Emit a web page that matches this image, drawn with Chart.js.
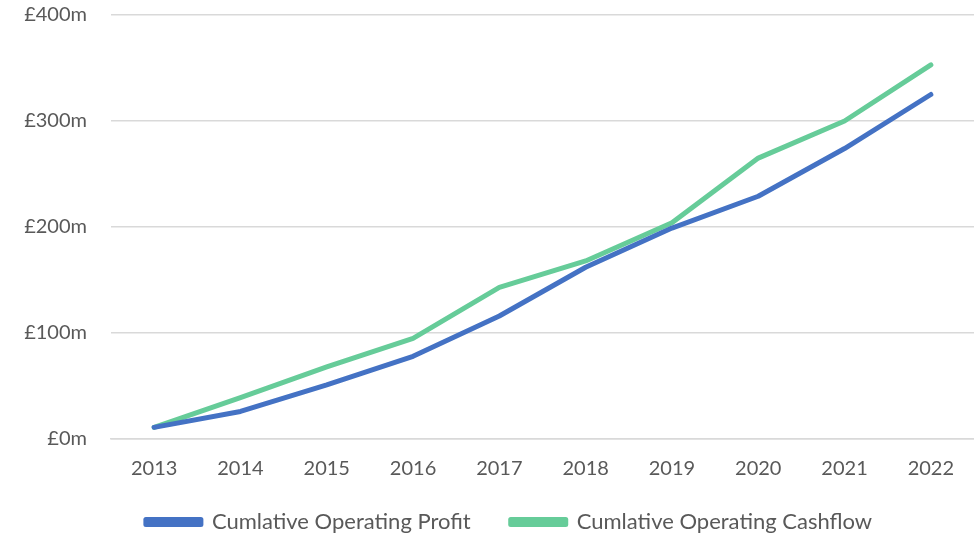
<!DOCTYPE html>
<html>
<head>
<meta charset="utf-8">
<script src="https://cdn.jsdelivr.net/npm/chart.js@4"></script>
<style>
  html, body { margin: 0; padding: 0; background: #fff; }
  #wrap { width: 974px; height: 537px; position: relative; }
</style>
</head>
<body>
<div id="wrap"><canvas id="chart"></canvas></div>
<script>
const years = ['2013', '2014', '2015', '2016', '2017', '2018', '2019', '2020', '2021', '2022'];
const profit = [11, 26, 51, 78, 116, 162, 199, 229, 274, 325];
const cashflow = [11, 39, 68, 95, 143, 168, 204, 265, 300, 353];
const yTicks = [0, 100, 200, 300, 400];

const textColor = '#595959';
const fontFamily = 'Lato, "Open Sans", sans-serif';

// legend: keep it short (wide item spacing adds a lot of height) and nudge it into place
const legendPlacePlugin = {
  id: 'legendPlace',
  beforeUpdate(chart) {
    const legend = chart.legend;
    if (legend && !legend._fitWrapped) {
      const origFit = legend.fit.bind(legend);
      legend.fit = function () {
        origFit();
        this.height = 54;
      };
      legend._fitWrapped = true;
    }
  },
  afterLayout(chart) {
    const legend = chart.legend;
    if (!legend) return;
    legend.top -= 12;
    legend.left += 12;
    legend.right += 12;
  }
};

const ctx = document.getElementById('chart').getContext('2d');

new Chart(ctx, {
  type: 'line',
  data: {
    labels: years,
    datasets: [
      {
        label: 'Cumlative Operating Profit',
        data: profit,
        borderColor: '#4472c4',
        backgroundColor: '#4472c4',
        borderWidth: 5,
        pointRadius: 0,
        tension: 0,
        borderCapStyle: 'round',
        borderJoinStyle: 'round'
      },
      {
        label: 'Cumlative Operating Cashflow',
        data: cashflow,
        borderColor: '#66cc99',
        backgroundColor: '#66cc99',
        borderWidth: 5,
        pointRadius: 0,
        tension: 0,
        borderCapStyle: 'round',
        borderJoinStyle: 'round'
      }
    ]
  },
  options: {
    responsive: true,
    maintainAspectRatio: false,
    animation: false,
    layout: {
      padding: { top: 15, right: 0, bottom: 0, left: 20 }
    },
    plugins: {
      tooltip: { enabled: false },
      legend: {
        position: 'bottom',
        labels: {
          color: textColor,
          font: { family: fontFamily, size: 22 },
          boxWidth: 55,
          boxHeight: 5,
          padding: 40
        }
      }
    },
    scales: {
      x: {
        offset: true,
        grid: { display: false, drawTicks: false },
        border: { display: true, color: '#d9d9d9', width: 1.5 },
        ticks: {
          color: textColor,
          font: { family: fontFamily, size: 20 },
          padding: 18,
          maxRotation: 0
        },
        afterFit: (scale) => { scale.height = 44; }
      },
      y: {
        min: 0,
        max: 400,
        afterBuildTicks: (scale) => { scale.ticks = yTicks.map(v => ({ value: v })); },
        grid: { color: '#d9d9d9', lineWidth: 1.5, drawTicks: false },
        border: { display: false },
        ticks: {
          color: textColor,
          font: { family: fontFamily, size: 20 },
          padding: 24,
          callback: (v) => '£' + v + 'm'
        },
        afterFit: (scale) => {
          scale.width = 91;
          scale.paddingTop = 0;
          scale.paddingBottom = 0;
        }
      }
    }
  },
  plugins: [legendPlacePlugin]
});
</script>
</body>
</html>
